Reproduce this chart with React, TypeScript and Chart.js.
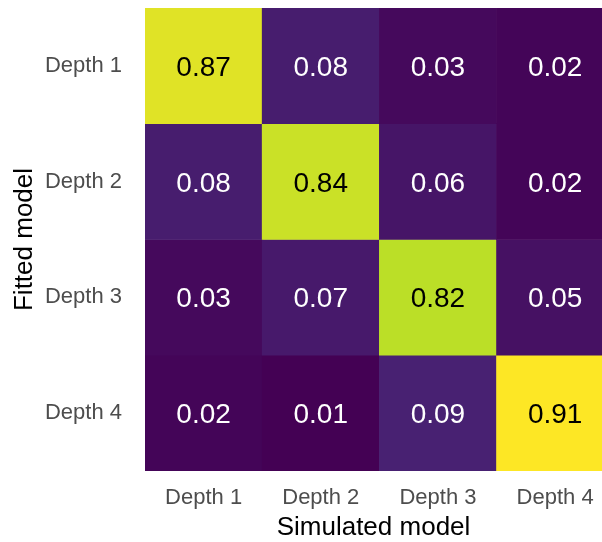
import React, { useEffect, useRef } from "react";
import { Chart, registerables } from "chart.js";

Chart.register(...registerables);

const simulatedLabels = ["Depth 1", "Depth 2", "Depth 3", "Depth 4"];
const fittedLabels = ["Depth 1", "Depth 2", "Depth 3", "Depth 4"];

const fittedDepth1 = [0.87, 0.08, 0.03, 0.02];
const fittedDepth2 = [0.08, 0.84, 0.06, 0.02];
const fittedDepth3 = [0.03, 0.07, 0.82, 0.05];
const fittedDepth4 = [0.02, 0.01, 0.09, 0.91];

const matrix = [fittedDepth1, fittedDepth2, fittedDepth3, fittedDepth4];

const viridisStops = [
  "#440154", "#482576", "#414487", "#35608D", "#2A788E", "#21908C",
  "#22A884", "#43BF71", "#7AD151", "#BBDF27", "#FDE725",
];

function hexToRgb(h: string) {
  return [parseInt(h.slice(1, 3), 16), parseInt(h.slice(3, 5), 16), parseInt(h.slice(5, 7), 16)];
}

function viridis(t: number) {
  const tt = Math.max(0, Math.min(1, t));
  const pos = tt * (viridisStops.length - 1);
  const i = Math.min(Math.floor(pos), viridisStops.length - 2);
  const f = pos - i;
  const a = hexToRgb(viridisStops[i]);
  const b = hexToRgb(viridisStops[i + 1]);
  const c = a.map((v, k) => Math.round(v + (b[k] - v) * f));
  return `rgb(${c[0]},${c[1]},${c[2]})`;
}

const FONT = '"Liberation Sans", Arial, Helvetica, sans-serif';

function zeroPadding(s: any) {
  s.paddingLeft = 0;
  s.paddingRight = 0;
  s.paddingTop = 0;
  s.paddingBottom = 0;
}

export default function App() {
  const ref = useRef<HTMLCanvasElement>(null);

  useEffect(() => {
    if (!ref.current) return;
    Chart.defaults.font.family = FONT;
    const all = matrix.flat();
    const vmin = Math.min(...all);
    const vmax = Math.max(...all);

    const datasets = matrix.map((row, r) => ({
      label: fittedLabels[r],
      data: row.map((v, c) => ({ x: c, y: [r - 0.5, r + 0.5] })),
      backgroundColor: row.map((v) => viridis((v - vmin) / (vmax - vmin))),
      borderWidth: 0,
      grouped: false,
      barPercentage: 1,
      categoryPercentage: 1,
    }));

    const cellLabels = {
      id: "cellLabels",
      afterDatasetsDraw(chart: any) {
        const { ctx, scales } = chart;
        const xs = scales.x;
        const ys = scales.y;
        ctx.save();
        ctx.font = `28px ${FONT}`;
        ctx.textAlign = "center";
        ctx.textBaseline = "alphabetic";
        matrix.forEach((row, r) =>
          row.forEach((v, c) => {
            ctx.fillStyle = v > 0.5 ? "#000000" : "#FFFFFF";
            ctx.fillText(v.toFixed(2), xs.getPixelForValue(c), ys.getPixelForValue(r) + 10);
          })
        );
        ctx.restore();
      },
    };

    const chart = new Chart(ref.current, {
      type: "bar",
      data: { datasets: datasets as any },
      options: {
        animation: false,
        responsive: false,
        devicePixelRatio: 1,
        layout: { padding: { top: 8, left: 0, right: 0, bottom: 0 } },
        plugins: { legend: { display: false }, tooltip: { enabled: false } },
        scales: {
          x: {
            type: "linear",
            offset: false,
            min: -0.5,
            max: 3.4,
            afterBuildTicks: (s: any) => {
              s.ticks = simulatedLabels.map((_, i) => ({ value: i }));
            },
            afterFit: (s: any) => {
              s.height = 71;
              zeroPadding(s);
            },
            ticks: {
              autoSkip: false,
              maxRotation: 0,
              padding: 14,
              color: "#4D4D4D",
              font: { size: 22, family: FONT },
              callback: (v: any) => simulatedLabels[Number(v)],
            },
            grid: { display: false, drawTicks: false, offset: false },
            border: { display: false },
            title: {
              display: true,
              text: "Simulated model",
              color: "#000000",
              font: { size: 26, family: FONT, lineHeight: 1 },
              padding: { top: 0, bottom: 1.5 },
            },
          },
          y: {
            type: "linear",
            min: -0.5,
            max: 3.5,
            reverse: true,
            afterBuildTicks: (s: any) => {
              s.ticks = fittedLabels.map((_, i) => ({ value: i }));
            },
            afterFit: (s: any) => {
              s.width = 145;
              zeroPadding(s);
            },
            ticks: {
              autoSkip: false,
              padding: 23,
              color: "#4D4D4D",
              font: { size: 22, family: FONT },
              callback: (v: any) => fittedLabels[Number(v)],
            },
            grid: { display: false, drawTicks: false },
            border: { display: false },
            title: {
              display: true,
              text: "Fitted model",
              color: "#000000",
              font: { size: 26, family: FONT, lineHeight: 1 },
              padding: { top: 12, bottom: 0 },
            },
          },
        },
      } as any,
      plugins: [cellLabels],
    });

    return () => chart.destroy();
  }, []);

  return (
    <div
      style={{
        position: "fixed",
        left: 0,
        top: 0,
        width: 602,
        height: 542,
        overflow: "hidden",
        background: "#FFFFFF",
      }}
    >
      <canvas ref={ref} width={602} height={542} style={{ width: 602, height: 542, display: "block" }} />
    </div>
  );
}
